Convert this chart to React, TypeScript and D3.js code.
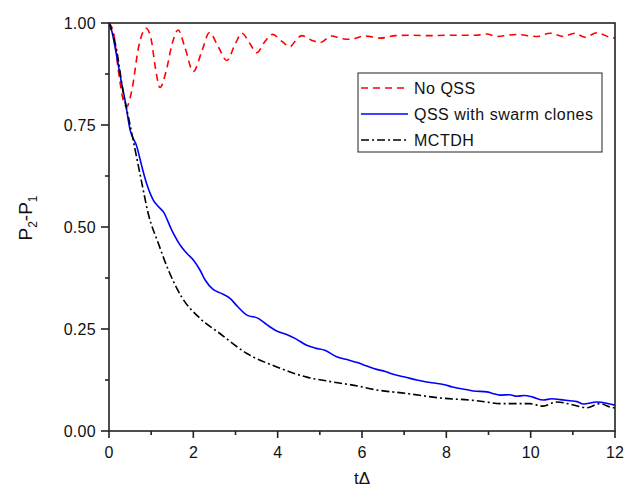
import React from "react";
import * as d3 from "d3";

const noQssT = [0,0.1,0.22,0.34,0.42,0.55,0.7,0.88,1.0,1.1,1.21,1.35,1.5,1.64,1.8,2.0,2.2,2.38,2.6,2.79,3.0,3.15,3.34,3.5,3.7,3.88,4.1,4.29,4.45,4.57,4.8,5.0,5.28,5.5,5.71,6.07,6.43,6.8,7.2,7.6,8.0,8.4,8.7,8.96,9.19,9.67,10.14,10.46,10.77,11.05,11.29,11.57,11.88,12];
const noQssV = [1.0,0.98,0.885,0.81,0.795,0.84,0.94,0.987,0.96,0.89,0.842,0.88,0.95,0.983,0.94,0.881,0.93,0.976,0.94,0.908,0.95,0.975,0.95,0.927,0.955,0.972,0.955,0.942,0.96,0.969,0.958,0.952,0.968,0.962,0.96,0.968,0.963,0.969,0.97,0.969,0.97,0.97,0.97,0.973,0.967,0.972,0.967,0.975,0.967,0.975,0.965,0.976,0.965,0.963];

const qssT = [0,0.06,0.18,0.3,0.38,0.5,0.66,0.78,0.89,1.05,1.17,1.29,1.49,1.72,1.85,2.0,2.16,2.28,2.47,2.65,2.87,3.05,3.27,3.54,3.75,3.98,4.2,4.41,4.69,4.9,5.12,5.4,5.65,5.91,6.1,6.35,6.55,6.74,7.06,7.3,7.53,7.75,7.93,8.15,8.32,8.5,8.64,8.96,9.1,9.27,9.5,9.67,9.85,10.05,10.3,10.5,10.7,10.93,11.1,11.25,11.57,11.8,11.96,12];
const qssV = [1.0,0.983,0.92,0.852,0.811,0.738,0.697,0.648,0.607,0.566,0.55,0.537,0.492,0.451,0.435,0.419,0.394,0.37,0.347,0.338,0.325,0.305,0.284,0.276,0.26,0.245,0.237,0.227,0.21,0.203,0.198,0.182,0.175,0.167,0.16,0.151,0.146,0.139,0.131,0.125,0.12,0.117,0.114,0.108,0.104,0.101,0.098,0.096,0.092,0.088,0.089,0.085,0.087,0.083,0.076,0.079,0.077,0.074,0.072,0.066,0.071,0.068,0.064,0.063];

const mctdhT = [0,0.18,0.34,0.46,0.62,0.78,0.93,1.17,1.41,1.72,2.16,2.63,3.27,3.98,4.69,5.32,5.91,6.27,7.06,7.85,8.64,8.96,9.27,9.51,9.98,10.29,10.62,10.93,11.33,11.64,11.96,12];
const mctdhV = [1.0,0.934,0.828,0.77,0.689,0.607,0.533,0.46,0.394,0.329,0.276,0.239,0.19,0.157,0.132,0.12,0.11,0.102,0.092,0.081,0.075,0.071,0.067,0.067,0.067,0.061,0.071,0.066,0.057,0.067,0.057,0.058];

const xTicks = [0, 2, 4, 6, 8, 10, 12];
const xMinor = [1, 3, 5, 7, 9, 11];
const yTicks = [0, 0.25, 0.5, 0.75, 1.0];
const yMinor = [0.125, 0.375, 0.625, 0.875];
const legendLabels = ["No QSS", "QSS with swarm clones", "MCTDH"];

const W = 625, H = 493;
const L = 109, R = 615, T = 23, B = 431;

export default function App() {
  const x = d3.scaleLinear().domain([0, 12]).range([L, R]);
  const y = d3.scaleLinear().domain([0, 1]).range([B, T]);
  const line = d3.line<[number, number]>().x(d => x(d[0])).y(d => y(d[1])).curve(d3.curveMonotoneX);
  const zip = (a: number[], b: number[]) => a.map((t, i) => [t, b[i]] as [number, number]);
  const series = [
    { t: noQssT, v: noQssV, color: "#ff0000", dash: "7,5" },
    { t: qssT, v: qssV, color: "#0000ff", dash: "" },
    { t: mctdhT, v: mctdhV, color: "#000000", dash: "8,3,2,3" },
  ];
  const font = "Liberation Sans, Arial, sans-serif";
  const legX = 358, legY = 73, legW = 244, legH = 79;
  const rowY = [88, 114, 140];
  return (
    <svg width={W} height={H} style={{ position: "absolute", left: 0, top: 0 }} fontFamily={font}>
      <rect x={0} y={0} width={W} height={H} fill="#fff" />
      <defs>
        <clipPath id="plot"><rect x={L} y={T - 2} width={R - L} height={B - T + 4} /></clipPath>
      </defs>
      <g clipPath="url(#plot)">
        {series.map((s, i) => (
          <path key={i} d={line(zip(s.t, s.v)) || ""} fill="none" stroke={s.color} strokeWidth={1.6} strokeDasharray={s.dash || undefined} />
        ))}
      </g>
      <rect x={L} y={T} width={R - L} height={B - T} fill="none" stroke="#222" strokeWidth={1.6} />
      {xTicks.map(t => (
        <g key={"x" + t}>
          <line x1={x(t)} x2={x(t)} y1={B} y2={B + 7} stroke="#222" strokeWidth={1.6} />
          <text x={x(t)} y={458} textAnchor="middle" fontSize={16} fill="#111">{t}</text>
        </g>
      ))}
      {xMinor.map(t => (
        <line key={"xm" + t} x1={x(t)} x2={x(t)} y1={B} y2={B + 4} stroke="#222" strokeWidth={1.6} />
      ))}
      {yTicks.map(v => (
        <g key={"y" + v}>
          <line x1={L - 8} x2={L} y1={y(v)} y2={y(v)} stroke="#222" strokeWidth={1.6} />
          <text x={96} y={y(v) + 6} textAnchor="end" fontSize={16} letterSpacing={0.3} fill="#111">{v.toFixed(2)}</text>
        </g>
      ))}
      {yMinor.map(v => (
        <line key={"ym" + v} x1={L - 4} x2={L} y1={y(v)} y2={y(v)} stroke="#222" strokeWidth={1.6} />
      ))}
      <text x={362} y={484} textAnchor="middle" fontSize={17} fill="#111">tΔ</text>
      <text transform={`translate(32, 218) rotate(-90)`} textAnchor="middle" fontSize={19} fill="#111">
        P<tspan fontSize={12} dy={5}>2</tspan><tspan dy={-5}>-P</tspan><tspan fontSize={12} dy={5}>1</tspan>
      </text>
      <rect x={legX} y={legY} width={legW} height={legH} fill="#fff" stroke="#222" strokeWidth={1} />
      {series.map((s, i) => (
        <g key={"l" + i}>
          <line x1={361} x2={408} y1={rowY[i]} y2={rowY[i]} stroke={s.color} strokeWidth={1.6} strokeDasharray={s.dash || undefined} />
          <text x={414} y={rowY[i] + 6} fontSize={16} letterSpacing={0.5} fill="#111">{legendLabels[i]}</text>
        </g>
      ))}
    </svg>
  );
}
